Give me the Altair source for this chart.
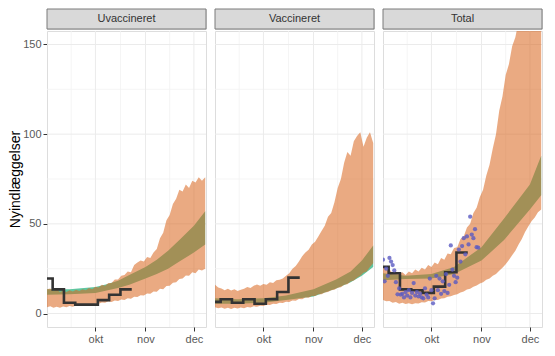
import altair as alt
import pandas as pd

START = pd.Timestamp("2021-09-01")
FONT = "Liberation Sans"
W, H, SH = 159, 296, 20

# ---------------- data ----------------
# outer (orange) band, sampled every 2nd day from 1 Sep (day 0) to 8 Dec (day 98)
band_days = list(range(0, 99, 2))

uvac_hi = [13.5, 14, 12.5, 13.5, 12, 12.8, 12, 13, 12.3, 13.2,
           12.6, 13.5, 13, 14.2, 13.6, 15, 14.5, 16, 15.5, 17,
           17, 19, 19, 21, 21.5, 23.5, 23, 27, 28.5, 29.5,
           29, 31.5, 31, 34, 36, 42, 45, 52, 55, 61,
           64, 69, 68, 72, 70, 74, 73, 76, 74, 76]
uvac_lo = [3.5, 4, 3.2, 3.8, 3.3, 3.9, 3.5, 4.2, 3.8, 4.5,
           4.2, 4.8, 4.5, 5.2, 5, 5.6, 5.4, 6.2, 6, 6.8,
           6.5, 7.3, 7, 7.8, 7.6, 8.5, 8.3, 9.3, 9.2, 10.2,
           10, 11.2, 11, 12.3, 12.2, 13.8, 13.5, 15.3, 15.5, 17.2,
           17.5, 19.2, 19.5, 21.2, 21, 23, 22.5, 24.5, 24, 25]

vac_hi = [16, 14.5, 14, 13, 13.8, 12.8, 13.5, 12.5, 13.2, 13.8,
          14.8, 14.2, 15.5, 16.2, 15.5, 16.5, 16, 17.5, 17, 18.5,
          18.8, 19.5, 21, 22.5, 25, 26.5, 29, 32, 34, 35.5,
          38.5, 40, 43, 46, 49, 54, 56, 62, 70, 75,
          84, 90, 88, 96, 99, 101, 93, 98, 101, 95]
vac_lo = [3.5, 3, 3.4, 2.7, 3.2, 2.6, 3.2, 2.8, 3.4, 3,
          3.6, 3.4, 4, 3.8, 4.4, 4.2, 4.9, 4.8, 5.4, 5.3,
          6, 5.9, 6.6, 6.5, 7.3, 7.2, 8.1, 8, 8.9, 8.8,
          9.8, 9.8, 10.8, 10.8, 11.8, 12, 13, 13.2, 14.4, 14.6,
          16, 16.4, 17.8, 18.4, 20, 21, 22.8, 23.5, 26, 28]

tot_hi = [26, 24.5, 24.5, 22.5, 23.5, 22, 23, 21.5, 23.5, 22.5,
          24.5, 23.5, 25.5, 24.5, 27, 26, 28.5, 27.5, 31, 30,
          33.5, 33, 36.5, 37, 41.5, 43, 48, 50, 56, 59,
          65, 69, 77, 83, 92, 100, 113, 121, 133, 139,
          149, 154, 163, 167, 173, 175, 179, 180, 183, 184]
tot_lo = [7.5, 6.8, 7, 6, 6.5, 5.5, 6, 5.3, 5.8, 5.2,
          5.8, 5.6, 6.3, 6.2, 7, 6.9, 7.6, 7.6, 8.4, 8.5,
          9.3, 9.6, 10.4, 10.8, 11.8, 12.3, 13.4, 13.8, 15, 15.6,
          16.8, 17.5, 18.8, 19.5, 21, 22, 23.8, 25.5, 27.5, 29.8,
          32.5, 35, 38.5, 41.5, 45.5, 48.5, 51.5, 53.5, 56.5, 58]

# inner (turquoise) band
uvac_t_days = [0, 14, 30, 37, 44, 51, 61, 68, 75, 82, 91, 98]
uvac_t_lo = [10.5, 10.8, 11.5, 12.8, 14.2, 16, 19.5, 22, 25, 29, 34, 38.5]
uvac_t_hi = [13.5, 13.5, 14.8, 16.3, 18.3, 21.5, 26, 30, 35, 41, 49, 57]

vac_t_days = [0, 14, 30, 44, 61, 75, 84, 91, 98]
vac_t_lo = [5.5, 5.5, 6, 7.5, 9.5, 14, 17.5, 21, 26]
vac_t_hi = [8.5, 8, 8.5, 10, 13.5, 19, 23.5, 29.5, 38]

tot_t_days = [0, 14, 30, 44, 61, 75, 91, 98]
tot_t_lo = [18.5, 19.3, 19.5, 22, 29.5, 41, 58, 66]
tot_t_hi = [22.5, 21, 22, 26, 37, 53, 72, 88]

# weekly observed admissions (step line)
step_days = [0, 3.5, 10.5, 17.5, 24.5, 31.5, 38.5, 45.5, 52.5]
uvac_step = [19.5, 13.5, 6, 5, 5, 7.5, 10.5, 13.5]
vac_step = [6.5, 8, 6, 8, 5.5, 8, 12, 20]
tot_step = [26, 22.5, 13.5, 13, 11.5, 15, 23, 34]

# daily total admissions (points)
pt_days = list(range(0, 60))
pt_vals = [30, 18, 25, 21, 31, 29, 27, 24, 17.5, 10.7,
           14, 10.5, 11, 9, 12, 10, 13, 9, 11.5, 17,
           10, 12, 9.5, 11, 9, 8.5, 14, 10.5, 9, 19.5,
           13, 5.7, 8.5, 21, 13, 19.5, 11, 18, 12.5, 22,
           11.5, 16, 38, 24.5, 21, 17.5, 20, 35.7, 29, 37.6,
           42, 33, 43, 38.5, 54, 44, 42, 47, 37, 36.7]

# grid
major_dates = ["2021-10-01", "2021-11-01", "2021-12-01"]
minor_dates = ["2021-09-16", "2021-10-16T12:00:00", "2021-11-16"]
major_y = [0, 50, 100, 150]
minor_y = [25, 75, 125]


def to_dates(days):
    return [(START + pd.Timedelta(days=d)).strftime("%Y-%m-%dT%H:%M:%S") for d in days]


def fix(s):
    return s if "T" in s else s + "T00:00:00"


xscale = alt.Scale(domain=[alt.DateTime(year=2021, month=9, date=1),
                           alt.DateTime(year=2021, month=12, date=8, hours=12)])
yscale = alt.Scale(domain=[-7.5, 157.5], nice=False, zero=False)

xaxis = alt.Axis(values=[alt.DateTime(year=2021, month=10, date=1),
                         alt.DateTime(year=2021, month=11, date=1),
                         alt.DateTime(year=2021, month=12, date=1)],
                 labelExpr="['jan','feb','mar','apr','maj','jun','jul','aug','sep','okt','nov','dec'][month(datum.value)]",
                 title=None, grid=False, domain=False, tickSize=4, tickColor="#333333",
                 labelColor="#595959", labelFontSize=11, labelPadding=2, labelFont=FONT)

yaxis_left = alt.Axis(values=major_y, title="Nyindlæggelser", grid=False, domain=False,
                      tickSize=4, tickColor="#333333", labelColor="#595959", labelFontSize=11,
                      labelPadding=2, labelFont=FONT, titleFont=FONT, titleFontSize=14,
                      titleColor="#000000", titleFontWeight="normal", titlePadding=0)


def panel(hi, lo, t_days, t_lo, t_hi, steps, points, show_y):
    yax = yaxis_left if show_y else None
    X = lambda f: alt.X(f, type="temporal", scale=xscale, axis=xaxis)
    Y = lambda f: alt.Y(f, type="quantitative", scale=yscale, axis=yax)

    gv_major = alt.Chart(pd.DataFrame({"d": [fix(s) for s in major_dates]})).mark_rule(
        color="#EBEBEB", strokeWidth=1).encode(x=X("d"))
    gv_minor = alt.Chart(pd.DataFrame({"d": [fix(s) for s in minor_dates]})).mark_rule(
        color="#F3F3F3", strokeWidth=0.8).encode(x=X("d"))
    gh_major = alt.Chart(pd.DataFrame({"v": major_y})).mark_rule(
        color="#EBEBEB", strokeWidth=1).encode(y=Y("v"))
    gh_minor = alt.Chart(pd.DataFrame({"v": minor_y})).mark_rule(
        color="#F3F3F3", strokeWidth=0.8).encode(y=Y("v"))

    turq = alt.Chart(pd.DataFrame({"d": to_dates(t_days), "lo": t_lo, "hi": t_hi})).mark_area(
        color="#5FC6A0", opacity=1, clip=True).encode(x=X("d"), y=Y("lo"), y2="hi")
    orange = alt.Chart(pd.DataFrame({"d": to_dates(band_days), "lo": lo, "hi": hi})).mark_area(
        color="#D9651C", opacity=0.55, clip=True).encode(x=X("d"), y=Y("lo"), y2="hi")
    step_df = pd.DataFrame({"d": to_dates(step_days), "v": steps + [steps[-1]]})
    step = alt.Chart(step_df).mark_line(
        interpolate="step-after", color="#333333", strokeWidth=2.6, clip=True).encode(
        x=X("d"), y=Y("v"))
    layers = [gv_minor, gh_minor, gv_major, gh_major, turq, orange, step]
    if points is not None:
        pdays, pvals = points
        pts = alt.Chart(pd.DataFrame({"d": to_dates(pdays), "v": pvals})).mark_circle(
            size=18, color="#5A5AC2", opacity=0.8, clip=True).encode(x=X("d"), y=Y("v"))
        layers.append(pts)
    return alt.layer(*layers).properties(width=W, height=H)


def strip(name):
    base = alt.Chart(pd.DataFrame({"label": [name]}))
    box = base.mark_rect(fill="#D9D9D9", stroke="#7A7A7A", strokeWidth=1).encode(
        x=alt.value(0), x2=alt.value(W), y=alt.value(0), y2=alt.value(SH))
    txt = base.mark_text(font=FONT, fontSize=11, color="#333333").encode(
        text="label:N", x=alt.value(W / 2), y=alt.value(SH / 2))
    return alt.layer(box, txt).properties(width=W, height=SH)


cols = [
    alt.vconcat(strip("Uvaccineret"),
                panel(uvac_hi, uvac_lo, uvac_t_days, uvac_t_lo, uvac_t_hi, uvac_step, None, True),
                spacing=0),
    alt.vconcat(strip("Vaccineret"),
                panel(vac_hi, vac_lo, vac_t_days, vac_t_lo, vac_t_hi, vac_step, None, False),
                spacing=0),
    alt.vconcat(strip("Total"),
                panel(tot_hi, tot_lo, tot_t_days, tot_t_lo, tot_t_hi, tot_step, (pt_days, pt_vals), False),
                spacing=0),
]

chart = alt.hconcat(*cols, spacing=7).properties(
    padding={"left": 0, "top": 0, "right": 0, "bottom": 0}
).configure_view(stroke="#7A7A7A", strokeWidth=1).configure(font=FONT)

chart.save("out.html", embed_options={"renderer": "svg", "actions": False})
